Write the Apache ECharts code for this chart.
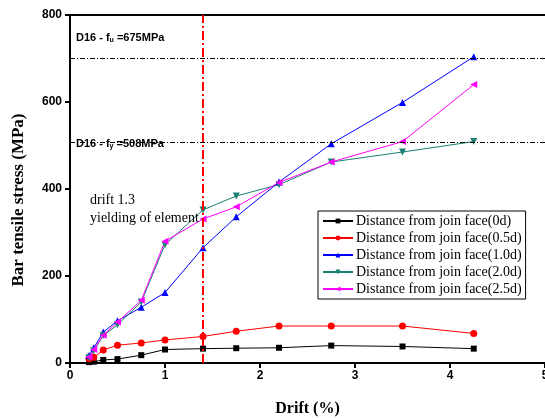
<!DOCTYPE html>
<html>
<head>
<meta charset="utf-8">
<script src="https://cdn.jsdelivr.net/npm/echarts@6/dist/echarts.min.js"></script>
<style>html,body{margin:0;padding:0;background:#fff}#c{width:545px;height:418px}</style>
</head>
<body>
<div id="c"></div>
<script>
const drift = [0.2, 0.25, 0.35, 0.5, 0.75, 1.0, 1.4, 1.75, 2.2, 2.75, 3.5, 4.25];
const s0d  = [2, 3, 7, 9, 18, 31, 33, 34, 35, 40, 38, 33];
const s05d = [10, 13, 30, 41, 46, 53, 61, 73, 85, 85, 85, 68];
const s10d = [17, 35, 71, 97, 128, 162, 265, 336, 416, 504, 599, 704];
const s20d = [12, 28, 63, 88, 140, 272, 352, 384, 410, 462, 485, 509];
const s25d = [14, 31, 64, 94, 144, 280, 331, 359, 415, 462, 509, 640];
const seriesNames = ['Distance from join face(0d)','Distance from join face(0.5d)','Distance from join face(1.0d)','Distance from join face(2.0d)','Distance from join face(2.5d)'];
const xTicks = [0,1,2,3,4,5];
const yTicks = [0,200,400,600,800];
const fuLine = 700, fyLine = 508, yieldDrift = 1.4;

const colors = ['#000000','#ff0000','#0000ff','#1a8070','#ff00ff'];
const symbols = ['rect','circle','triangle','triangle','triangle'];
const rot = [0,0,0,180,90];
const vals = [s0d,s05d,s10d,s20d,s25d];

const series = vals.map((v,i)=>({
  name: seriesNames[i], type:'line',
  data: drift.map((d,j)=>[d,v[j]]),
  symbol: symbols[i], symbolSize: i===0?6:7, symbolRotate: rot[i],
  showAllSymbol:true,
  itemStyle:{color:colors[i]}, lineStyle:{color:colors[i], width:1},
  z: 3
}));
series[0].markLine = {
  silent:true, symbol:'none', label:{show:false}, animation:false,
  data:[
    {yAxis: fuLine, lineStyle:{color:'#000',width:1,type:[5,2,1,2]}},
    {yAxis: fyLine, lineStyle:{color:'#000',width:1,type:[5,2,1,2]}},
    {xAxis: yieldDrift, lineStyle:{color:'#ff0000',width:2,type:[9,3,2,3]}}
  ]
};

const chart = echarts.init(document.getElementById('c'), null, {renderer:'canvas'});
const tickFont = {fontFamily:'Liberation Sans', fontWeight:'bold', fontSize:12, color:'#000'};
chart.setOption({
  animation:false,
  backgroundColor:'#fff',
  grid:{left:70, top:15, right:0, bottom:55, containLabel:false, outerBoundsMode:'none'},
  xAxis:[{
    type:'value', min:0, max:5, interval:1,
    name:'Drift (%)', nameLocation:'middle', nameGap:38,
    nameTextStyle:{fontFamily:'Liberation Serif', fontWeight:'bold', fontSize:16, color:'#000'},
    axisLine:{show:true, onZero:false, lineStyle:{color:'#000', width:2}},
    axisTick:{show:true, length:5, lineStyle:{width:2}},
    axisLabel:Object.assign({margin:7, formatter:v=>xTicks.includes(v)?String(v):''}, tickFont),
    splitLine:{show:false}
  },{
    type:'value', position:'top', min:0, max:5,
    axisLine:{show:true, onZero:false, lineStyle:{color:'#000', width:2}},
    axisTick:{show:false}, axisLabel:{show:false}, splitLine:{show:false}
  }],
  yAxis:{
    type:'value', min:0, max:800, interval:200,
    name:'Bar tensile stress (MPa)', nameLocation:'middle', nameGap:43,
    nameTextStyle:{fontFamily:'Liberation Serif', fontWeight:'bold', fontSize:17, color:'#000', padding:[0,22,0,0]},
    axisLine:{show:true, onZero:false, lineStyle:{color:'#000', width:2}},
    axisTick:{show:true, length:5, lineStyle:{width:2}},
    axisLabel:Object.assign({margin:8, formatter:v=>yTicks.includes(v)?String(v):''}, tickFont),
    splitLine:{show:false}
  },
  legend:{
    orient:'vertical', left:318, top:211,
    padding:[3,4,3,4], itemGap:3, itemWidth:30, itemHeight:6,
    borderColor:'#000', borderWidth:1, backgroundColor:'#fff',
    textStyle:{fontFamily:'Liberation Serif', fontSize:14, color:'#000', padding:[0,0,0,-2], lineHeight:14},
    data: seriesNames
  },
  graphic:[
    {type:'text', left:76, top:32, z:10, style:{
      text:'D16 - f{s|u} =675MPa',
      rich:{s:{fontSize:7, fontFamily:'Liberation Sans', fontWeight:'bold', verticalAlign:'bottom', padding:[6,0,0,0]}},
      font:'bold 11px Liberation Sans', fill:'#000'}},
    {type:'text', left:76, top:138, z:10, style:{
      text:'D16 - f{s|y} =508MPa',
      rich:{s:{fontSize:7, fontFamily:'Liberation Sans', fontWeight:'bold', verticalAlign:'bottom', padding:[6,0,0,0]}},
      font:'bold 11px Liberation Sans', fill:'#000'}},
    {type:'text', left:90, top:193, z:10, style:{text:'drift 1.3', font:'14px Liberation Serif', fill:'#000'}},
    {type:'text', left:90, top:211, z:10, style:{text:'yielding of element', font:'14px Liberation Serif', fill:'#000'}}
  ],
  series: series
});
</script>
</body>
</html>
